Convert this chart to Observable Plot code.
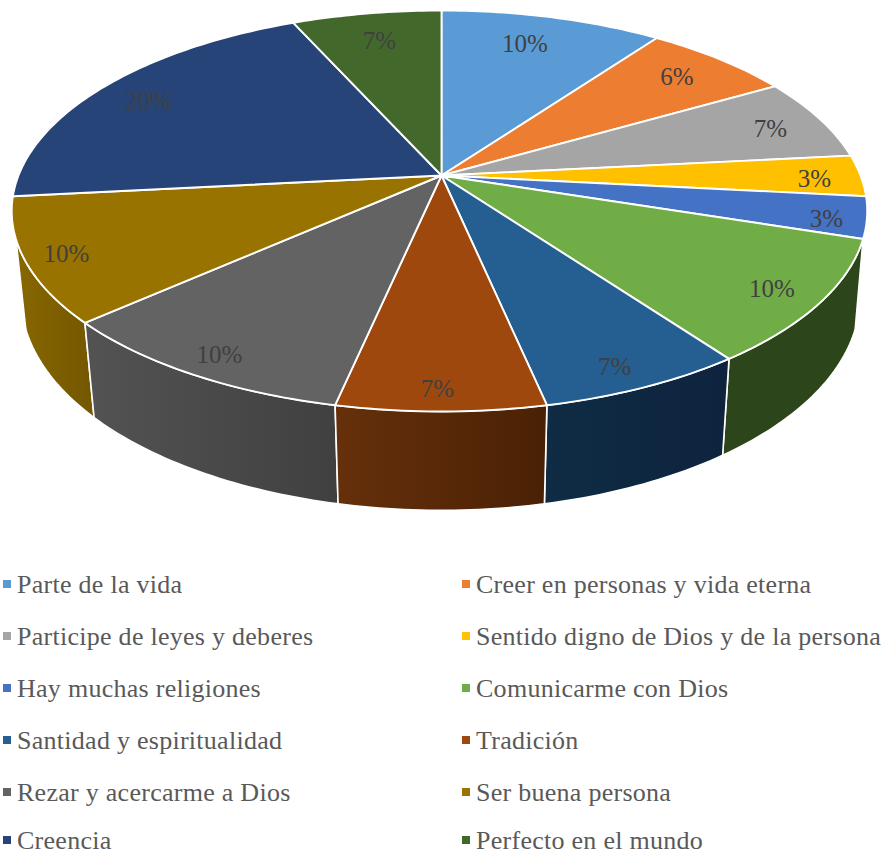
<!DOCTYPE html>
<html>
<head>
<meta charset="utf-8">
<script src="https://cdn.jsdelivr.net/npm/d3@7"></script>
<script src="https://cdn.jsdelivr.net/npm/@observablehq/plot@0.6"></script>
<style>
html,body{margin:0;padding:0;background:#fff;width:885px;height:856px;overflow:hidden}
#legend{display:grid;grid-template-columns:459px 426px;grid-auto-rows:52px;padding-top:29px;
  font-family:"Liberation Serif",serif;font-size:26px;letter-spacing:.27px;color:#595959;white-space:nowrap}
#legend div{display:flex;align-items:center;padding-left:3px;height:44px;padding-bottom:8px;position:relative;top:4px}
#legend div:nth-last-child(-n+2){top:0}
#legend span{line-height:.8}
#legend i{display:inline-block;width:8px;height:8px;margin-right:6px;margin-top:-3px;flex:none}
svg{display:block}
</style>
</head>
<body>
<div id="chart"></div>
<div id="legend"></div>
<script>
const categories = ["Parte de la vida","Creer en personas y vida eterna","Participe de leyes y deberes","Sentido digno de Dios y de la persona","Hay muchas religiones","Comunicarme con Dios","Santidad y espiritualidad","Tradición","Rezar y acercarme a Dios","Ser buena persona","Creencia","Perfecto en el mundo"];
const values = [10,6.67,6.67,3.33,3.33,10,6.67,6.67,10,10,20,6.67];
const labels = ["10%","6%","7%","3%","3%","10%","7%","7%","10%","10%","20%","7%"];
const colors = ["#5b9bd5","#ed7d31","#a5a5a5","#ffc000","#4472c4","#70ad47","#255e91","#9e480e","#636363","#997300","#264478","#43682b"];

// Styles: darker horizontal gradient for visible side walls (by slice index)
const sideStyles = {5:["#2d451b","#2d451b"],6:["#0f2c44","#0e233e"],7:["#66300b","#4a2105"],8:["#535353","#404040"],9:["#876700","#735700"]};
// Label placement within the top face: radius and a small pixel nudge
const labelRadius = [.81,.83,.856,.89,.91,.897,.915,.93,.918,.912,.852,.805];
const labelNudgeX = [-9,0,3,0,-1,-5,-10,-4,4,2,-3,0];
const labelNudgeY = [0,0,3,3,5,1,1,-3,0,1,2,0];

// Perspective projection of the pie's top and bottom faces
const top3d = {aL:423,aR:419,b:194.2,k:.177,c:0};
const bottom3d = {aL:414,aR:412,b:206,k:.171,c:86.4};
const project = (deg,r,f) => {
  const t = deg*Math.PI/180, X = r*Math.sin(t), Y = -r*Math.cos(t), d = 1-f.k*Y;
  return {x:(X<0?f.aL:f.aR)*X/d, y:f.c+f.b*Y/d};
};
// The side wall is only visible between these silhouette angles
const wallStart = 108, wallEnd = 252;
const total = d3.sum(values);
let acc = 0;
const slices = values.map((v,i)=>{const a0=acc/total*360; acc+=v; return {i,a0,a1:acc/total*360};});
const arc = (a0,a1,f) => {
  const n = Math.max(2,Math.ceil(Math.abs(a1-a0)));
  return d3.range(n+1).map(j=>project(a0+(a1-a0)*j/n,1,f));
};
const topPath = s => {const c=project(0,0,top3d); return [c,...arc(s.a0,s.a1,top3d),c];};
const sidePath = s => {
  const a0=Math.max(s.a0,wallStart), a1=Math.min(s.a1,wallEnd);
  const t=arc(a0,a1,top3d);
  return [...t,...arc(a1,a0,bottom3d),t[0]];
};

const gradients = () => {
  const defs = d3.create("svg:defs");
  Object.entries(sideStyles).forEach(([i,[a,b]])=>{
    const g = defs.append("linearGradient").attr("id","side"+i);
    g.append("stop").attr("offset","0%").attr("stop-color",a);
    g.append("stop").attr("offset","100%").attr("stop-color",b);
  });
  return defs.node();
};

const sideOrder = [9,5,8,6,7];
const labelData = slices.map(s=>{
  const p = project((s.a0+s.a1)/2,labelRadius[s.i],top3d);
  return {x:p.x+labelNudgeX[s.i],y:p.y+labelNudgeY[s.i],text:labels[s.i]};
});

const plot = Plot.plot({
  width:885,height:530,margin:0,
  x:{domain:[-441,444],range:[0,885],axis:null},
  y:{domain:[-175,355],range:[0,530],axis:null},
  marks:[
    gradients,
    ...sideOrder.map(i=>Plot.line(sidePath(slices[i]),{x:"x",y:"y",fill:`url(#side${i})`,stroke:"white",strokeWidth:1.6,strokeLinejoin:"round"})),
    ...slices.map(s=>Plot.line(topPath(s),{x:"x",y:"y",fill:colors[s.i],stroke:"white",strokeWidth:1.9,strokeLinejoin:"round"})),
    Plot.text(labelData,{x:"x",y:"y",text:"text",fontSize:25,fontFamily:"Liberation Serif",fill:"#404040"})
  ]
});
document.getElementById("chart").append(plot);

const legend = d3.select("#legend");
categories.forEach((c,i)=>{
  const row = legend.append("div");
  row.append("i").style("background",colors[i]);
  row.append("span").text(c);
});
</script>
</body>
</html>
